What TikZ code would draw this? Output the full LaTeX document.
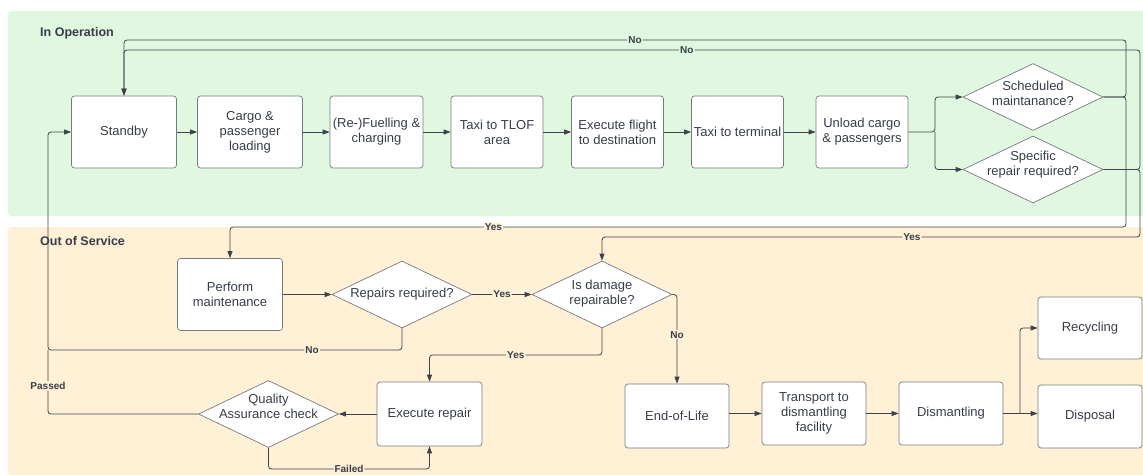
\documentclass[tikz,border=0pt]{standalone}
\usepackage{fontspec}
\setmainfont{Liberation Sans}
\usetikzlibrary{arrows.meta,shapes.geometric}
\definecolor{opgreen}{RGB}{225,248,224}
\definecolor{oosorange}{RGB}{255,240,214}
\definecolor{boxline}{RGB}{118,122,128}
\definecolor{linkcol}{RGB}{62,67,75}
\definecolor{txt}{RGB}{55,61,73}
\begin{document}
\begin{tikzpicture}[x=1pt,y=-1pt,
  every node/.style={font=\fontsize{13}{15}\selectfont, text=txt},
  stepbox/.style={draw=boxline, fill=white, rounded corners=3pt, line width=0.7pt,
    align=center, inner sep=1pt, minimum width=92pt, minimum height=72pt},
  decision/.style={shape=diamond, draw=boxline, fill=white, line width=0.7pt,
    inner sep=0pt, minimum width=140pt, minimum height=67pt},
  link/.style={draw=linkcol, line width=0.8pt, rounded corners=3pt},
  arr/.style={link, -{Triangle[length=7pt,width=5pt]}},
  lbl/.style={font=\bfseries\fontsize{10}{11}\selectfont, inner sep=1pt, fill=oosorange},
  lblg/.style={lbl, fill=opgreen},
  paneltitle/.style={font=\bfseries\fontsize{12.5}{14}\selectfont, anchor=west, inner sep=0pt}]

\useasboundingbox (0,0) rectangle (1143,476);

% swimlane panels
\fill[opgreen, rounded corners=3pt] (8,11) rectangle (1150,216);
\fill[oosorange, rounded corners=3pt] (8,227) rectangle (1150,475);
\node[paneltitle] (tin) at (40,33) {In Operation};
\node[paneltitle] (tout) at (40,241) {Out of Service};

% operating cycle
\node[stepbox, minimum width=105pt] (standby) at (124,132) {Standby};
\node[stepbox, minimum width=105pt] (load) at (250,132) {Cargo \&\\passenger\\loading};
\node[stepbox, minimum width=93pt] (fuel) at (376.5,132) {(Re-)Fuelling \&\\charging};
\node[stepbox] (tlof) at (497,132) {Taxi to TLOF\\area};
\node[stepbox] (flight) at (617.5,132) {Execute flight\\to destination};
\node[stepbox] (terminal) at (737.5,132) {Taxi to terminal};
\node[stepbox] (unload) at (862,132) {Unload cargo\\\& passengers};
\node[decision, label={[align=center, yshift=4pt]center:{Scheduled\\maintanance?}}] (sched) at (1033,97) {};
\node[decision, label={[align=center, yshift=5pt]center:{Specific\\repair required?}}] (spec) at (1033,169.5) {};

% out of service
\node[stepbox, minimum width=105pt] (maint) at (230,294.5) {Perform\\maintenance};
\node[decision, label={[align=center]center:{Repairs required?}}] (repq) at (402,294.5) {};
\node[decision, label={[align=center, yshift=1pt]center:{Is damage\\repairable?}}] (dmg) at (602,294.5) {};
\node[stepbox, minimum width=105pt, minimum height=64pt] (exec) at (429.5,414) {Execute repair};
\node[decision, label={[align=center, yshift=8pt]center:{Quality\\Assurance check}}] (qa) at (268.5,414) {};
\node[stepbox, minimum width=104pt, minimum height=64pt] (eol) at (677,416) {End-of-Life};
\node[stepbox, minimum width=104pt, minimum height=63pt] (transp) at (814,413.5) {Transport to\\dismantling\\facility};
\node[stepbox, minimum width=104pt, minimum height=63pt] (dism) at (951,413.5) {Dismantling};
\node[stepbox, minimum width=104pt, minimum height=62pt] (recyc) at (1090,328) {Recycling};
\node[stepbox, minimum width=104pt, minimum height=63pt] (disp) at (1090,416.5) {Disposal};

\coordinate (fork) at (935,132);
\coordinate (fork2) at (1020,413.5);

% main sequence
\draw[arr] (standby) -- (load);
\draw[arr] (load) -- (fuel);
\draw[arr] (fuel) -- (tlof);
\draw[arr] (tlof) -- (flight);
\draw[arr] (flight) -- (terminal);
\draw[arr] (terminal) -- (unload);
\draw[arr] (unload.east) -- (fork) |- (sched.west);
\draw[arr] (fork) |- (spec.west);

% decisions back to standby or into service
\draw[arr] (sched.east) -- (1126,97) -- (1126,40) -- node[lblg, pos=0.49]{No} (124,40) -- (standby.north);
\draw[arr] (sched.east) -- (1126,97) -- (1126,227) -- node[lbl, pos=0.706]{Yes} (230,227) -- (maint.north);
\draw[arr] (spec.east) -- (1140,169.5) -- (1140,50) -- node[lblg, pos=0.446]{No} (124,50) -- (standby.north);
\draw[arr] (spec.east) -- (1140,169.5) -- (1140,237) -- node[lbl, pos=0.424]{Yes} (602,237) -- (dmg.north);

% maintenance and repair
\draw[arr] (maint) -- (repq);
\draw[arr] (repq) -- node[lbl]{Yes} (dmg);
\draw[arr] (repq.south) -- (402,350) -- node[lbl, pos=0.254]{No} (48,350) -- (48,132) -- (standby.west);
\draw[arr] (dmg.south) -- (602,355) -- node[lbl]{Yes} (429.5,355) -- (exec.north);
\draw[arr] (dmg.east) -- (677,294.5) -- node[lbl, pos=0.45]{No} (eol.north);
\draw[arr] (exec) -- (qa);
\draw[link] (qa.west) -- (48,414) -- node[lbl, pos=0.44]{Passed} (48,350);
\draw[arr] (qa.south) -- (268.5,469) -- node[lbl]{Failed} (429.5,469) -- (exec.south);

% end of life
\draw[arr] (eol.east |- transp.west) -- (transp.west);
\draw[arr] (transp) -- (dism);
\draw[arr] (dism.east) -- (dism.east -| disp.west);
\draw[arr] (fork2) |- (recyc.west);

\end{tikzpicture}
\end{document}
